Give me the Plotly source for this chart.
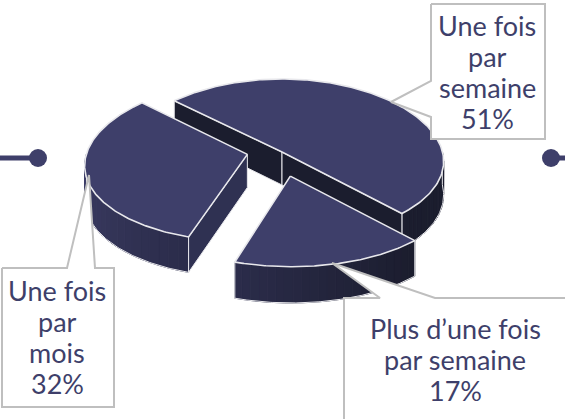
import numpy as np
import plotly.graph_objects as go

categories = ["Une fois par semaine", "Plus d’une fois par semaine", "Une fois par mois"]
label_lines = [["Une fois", "par", "semaine"], ["Plus d’une fois", "par semaine"], ["Une fois", "par", "mois"]]
values = [51, 17, 32]

INK = "#3e3f6a"
EDGE = "#e8e8ec"
GREY = "#bfbfbf"
W, H = 565, 419

START = -137.0
explode = [(0.0, 0.0), (0.05, 0.295), (-0.215, 0.03)]
arc_colors = [("#1b1d2e", "#1b1d2e"), ("#1b1d2e", "#2b2c4a"), ("#2b2c4b", "#3f4069")]
CUT = ["#1b1d2e", None, "#2f3152"]


def proj(X, Y):
    X, Y = np.asarray(X, float), np.asarray(Y, float)
    return 282 + 160.5 * X * (1 + 0.12 * Y), 152 + 79.8 * Y * (1 + 0.085 * Y)


def depth(Y):
    return 33 + 2.5 * np.asarray(Y, float)


def mix(a, b, f):
    ca = [int(a[i:i + 2], 16) for i in (1, 3, 5)]
    cb = [int(b[i:i + 2], 16) for i in (1, 3, 5)]
    return "rgb(%d,%d,%d)" % tuple(round(x + (y - x) * f) for x, y in zip(ca, cb))


fig = go.Figure()


def poly(x, y, fill=None, line=None, width=1.0, closed=True):
    x, y = list(x), list(y)
    if closed:
        x.append(x[0])
        y.append(y[0])
    fig.add_trace(go.Scatter(
        x=x, y=y, mode="lines", hoverinfo="skip", showlegend=False,
        fill="toself" if fill else "none", fillcolor=fill,
        line=dict(color=line or fill or "rgba(0,0,0,0)", width=width),
    ))


a0 = START
spans = []
for v in values:
    spans.append((a0, a0 + 360 * v / sum(values)))
    a0 += 360 * v / sum(values)

# draw order: rear slice first
for i in [0, 2, 1]:
    ex, ey = explode[i]
    t0, t1 = spans[i]
    ts = np.radians(np.linspace(t0, t1, 161))
    WX, WY = ex + np.cos(ts), ey + np.sin(ts)
    sx, sy = proj(WX, WY)
    ax, ay = proj(ex, ey)
    ad = depth(ey)

    # visible outer wall (front half of the rim)
    wall = np.where(np.sin(ts) > -0.02)[0]
    if len(wall) > 1:
        idx = np.array_split(wall, 22)
        c0, c1 = arc_colors[i]
        for k, seg in enumerate(idx):
            s = np.append(seg, min(seg[-1] + 1, wall[-1]))
            xs, ys = sx[s], sy[s]
            ds = depth(WY[s])
            col = mix(c0, c1, k / (len(idx) - 1))
            poly(list(xs) + list(xs[::-1]), list(ys) + list((ys + ds)[::-1]), fill=col, width=1)
        w = wall
        poly(sx[w], sy[w] + depth(WY[w]), line=EDGE, width=1, closed=False)
        poly([sx[w[0]], sx[w[0]]], [sy[w[0]], sy[w[0]] + depth(WY[w[0]])], line=EDGE, width=1, closed=False)
        poly([sx[w[-1]], sx[w[-1]]], [sy[w[-1]], sy[w[-1]] + depth(WY[w[-1]])], line=EDGE, width=1, closed=False)

    # cut faces facing the viewer
    if i == 0:
        poly([sx[0], ax, ax, sx[0]], [sy[0], ay, ay + ad, sy[0] + depth(WY[0])], fill=CUT[0], line=EDGE, width=1)
        poly([ax, sx[-1], sx[-1], ax], [ay, sy[-1], sy[-1] + depth(WY[-1]), ay + ad], fill=CUT[0], line=EDGE, width=1)
    elif i == 2:
        poly([sx[0], ax, ax, sx[0]], [sy[0], ay, ay + ad, sy[0] + depth(WY[0])], fill=CUT[2], line=EDGE, width=1)

    # top face
    poly([ax] + list(sx), [ay] + list(sy), fill=INK, line=EDGE, width=1.6)

# callouts: white boxes with pointers, drawn over the pie
poly([431, 431, 391, 431, 431, 545, 545], [4, 81, 102, 117, 139, 139, 4], fill="#ffffff", line=GREY, width=2)
poly([2, 67, 89, 95, 114, 114, 2], [268, 268, 175, 268, 268, 407, 407], fill="#ffffff", line=GREY, width=2)
fig.add_trace(go.Scatter(
    x=[344, 344, 380, 332, 435, 575, 575], y=[430, 298, 298, 263, 298, 298, 430], mode="lines",
    fill="toself", fillcolor="#ffffff", line=dict(color=GREY, width=2), hoverinfo="skip", showlegend=False))

# side connectors
for xs in ([0, 38], [551, 570]):
    fig.add_trace(go.Scatter(x=xs, y=[158, 158], mode="lines", line=dict(color=INK, width=5),
                             hoverinfo="skip", showlegend=False))
fig.add_trace(go.Scatter(x=[38, 551], y=[158, 158], mode="markers",
                         marker=dict(color=INK, size=18), hoverinfo="skip", showlegend=False))

label_pos = [(487, 25), (455, 328), (57, 290)]
LINE = 31.2
annotations = []
for lines, v, (x, y) in zip(label_lines, values, label_pos):
    for n, t in enumerate(lines + [f"{v}%"]):
        annotations.append(dict(x=x, y=y + n * LINE, xref="x", yref="y", showarrow=False, align="center",
                                text=t, font=dict(family="Lato", size=27, color=INK)))

fig.update_layout(
    width=W, height=H, margin=dict(l=0, r=0, t=0, b=0),
    paper_bgcolor="white", plot_bgcolor="white", showlegend=False,
    xaxis=dict(range=[0, W], visible=False, fixedrange=True),
    yaxis=dict(range=[H, 0], visible=False, fixedrange=True),
    annotations=annotations,
)
fig.write_html("out.html", config={"displayModeBar": False},
               post_script="document.body.style.margin='0';document.body.style.overflow='hidden';")
